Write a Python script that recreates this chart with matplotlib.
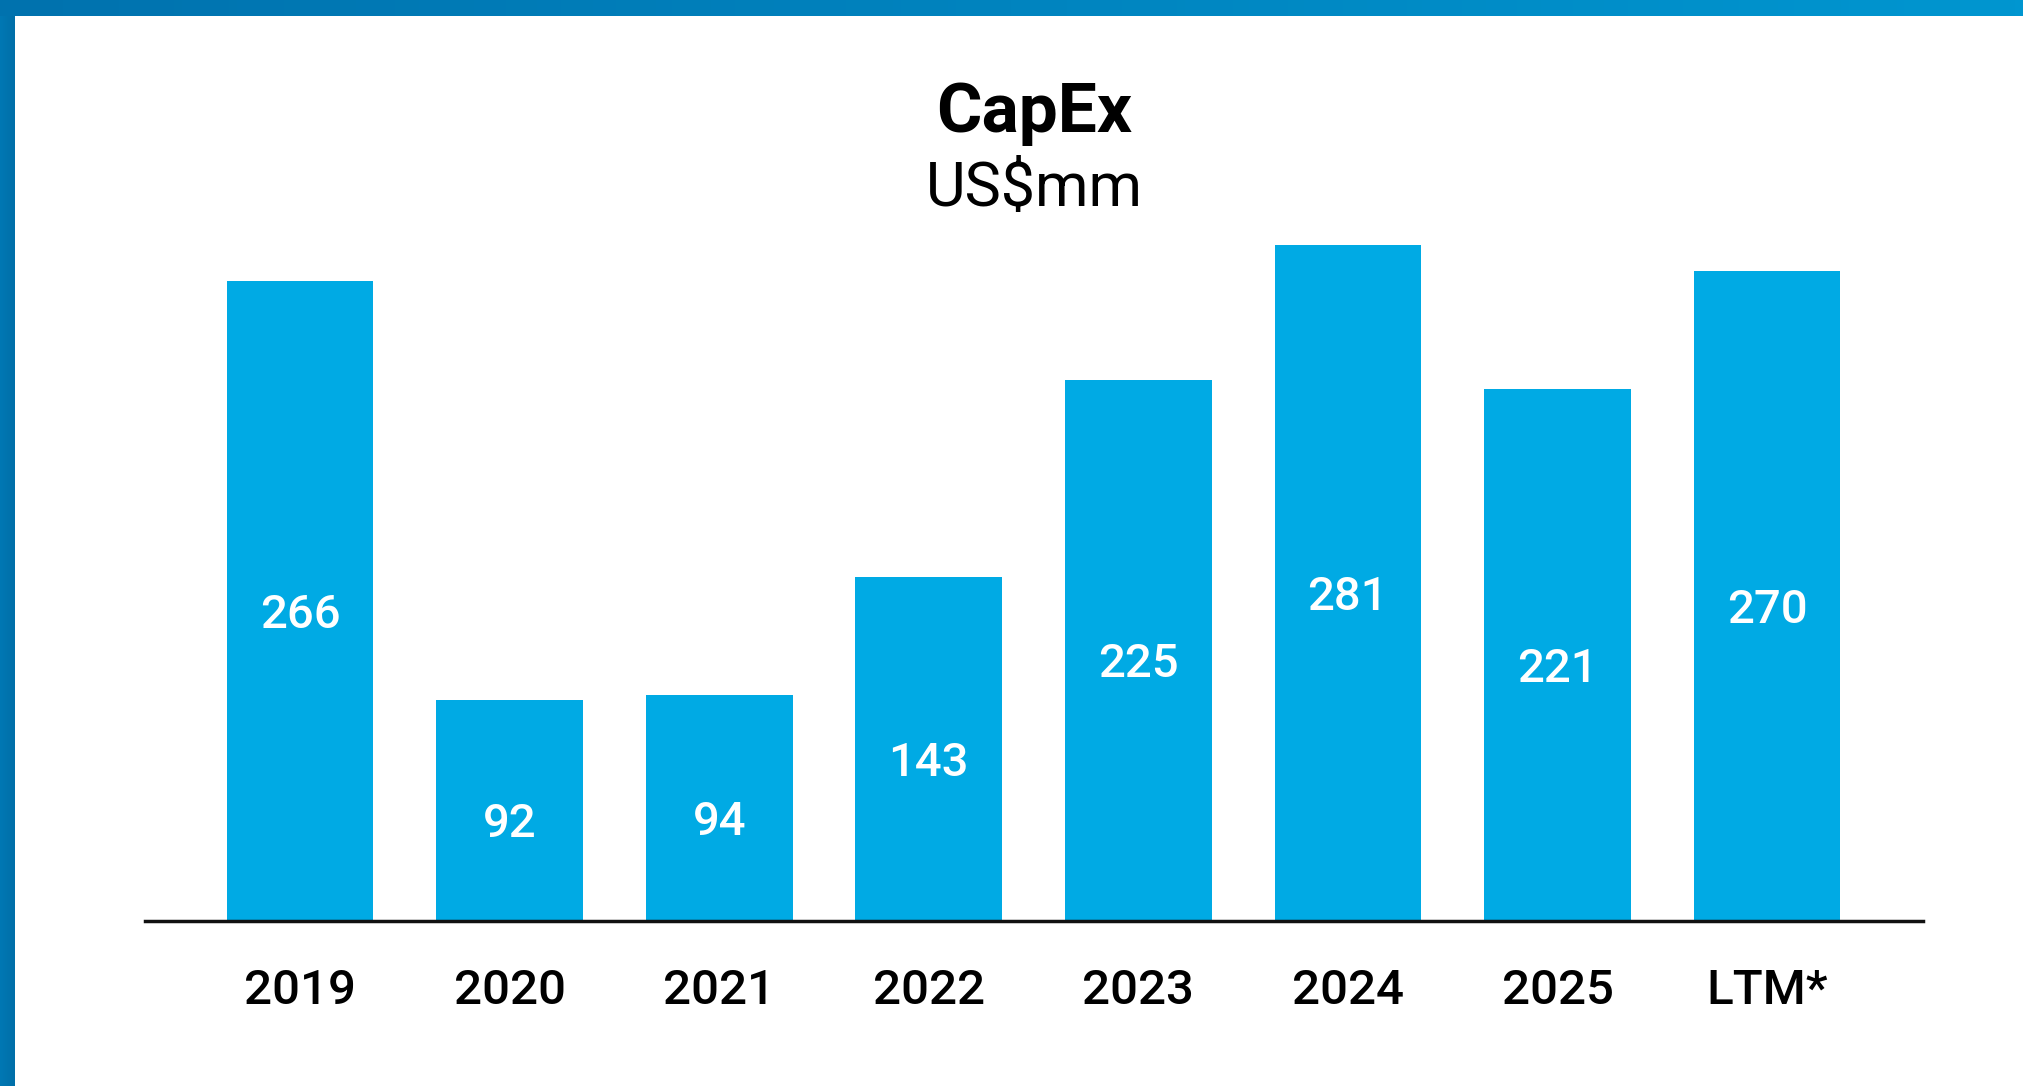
import matplotlib.pyplot as plt
import numpy as np
from matplotlib.colors import LinearSegmentedColormap

# dados
categorias = ['2019', '2020', '2021', '2022', '2023', '2024', '2025', 'LTM*']
capex = [266, 92, 94, 143, 225, 281, 221, 270]

cor_barra = '#00AAE4'

plt.rcParams['font.family'] = ['Roboto', 'DejaVu Sans']

fig = plt.figure(figsize=(20.23, 10.86), dpi=100)

# moldura azul (topo e lateral esquerda)
W, H = 2023, 1086
topo = fig.add_axes([0, 1 - 16 / H, 1, 16 / H])
grad = np.linspace(0, 1, 256).reshape(1, -1)
cmap_topo = LinearSegmentedColormap.from_list('topo', ['#0072AE', '#0096D0'])
topo.imshow(grad, aspect='auto', cmap=cmap_topo)
topo.axis('off')
lado = fig.add_axes([0, 0, 15 / W, 1 - 16 / H])
cmap_lado = LinearSegmentedColormap.from_list('lado', ['#0078B4', '#006FA8'])
lado.imshow(grad, aspect='auto', cmap=cmap_lado)
lado.axis('off')

# eixo principal
ax = fig.add_axes([145 / W, 165 / H, (1923 - 145) / W, (921 - 199) / H])
x = np.arange(len(categorias))
ax.bar(x, capex, width=0.7, color=cor_barra)
ax.set_xlim(-0.74, len(categorias) - 1 + 0.744)
ax.set_ylim(0, 300)

for xi, v in zip(x, capex):
    ax.annotate(str(v), (xi, v / 2), xytext=(0, -10), textcoords='offset points',
                ha='center', va='center', color='white', fontsize=34, fontweight='medium')

ax.set_xticks(x)
ax.set_xticklabels(categorias, fontsize=35.5, fontweight='medium')
ax.tick_params(axis='x', length=0, pad=34)
ax.set_yticks([])
for s in ['top', 'right', 'left']:
    ax.spines[s].set_visible(False)
ax.spines['bottom'].set_linewidth(2.5)
ax.spines['bottom'].set_color('#111111')

fig.text(1034 / W, 1 - 114 / H, 'CapEx', ha='center', va='center', fontsize=50, fontweight='bold')
fig.text(1034 / W, 1 - 189 / H, 'US$mm', ha='center', va='center', fontsize=44, fontweight='normal')

fig.savefig('out.png', dpi=100)
